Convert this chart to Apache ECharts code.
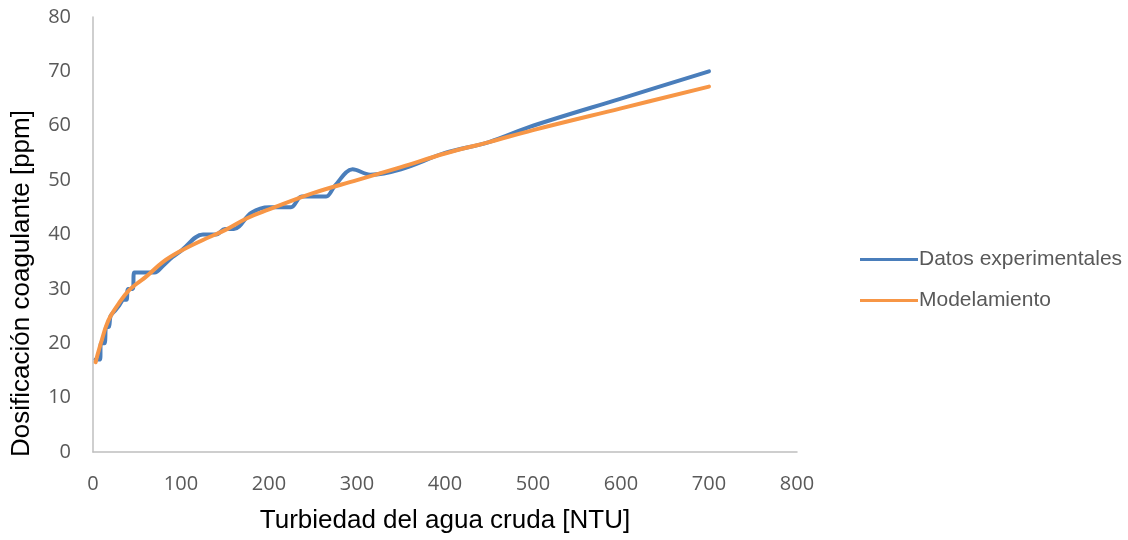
<!DOCTYPE html>
<html>
<head>
<meta charset="utf-8">
<script src="https://cdn.jsdelivr.net/npm/echarts@6/dist/echarts.min.js"></script>
<style>
  html, body { margin: 0; padding: 0; background: #ffffff; }
  #chart { width: 1128px; height: 540px; }
</style>
</head>
<body>
<div id="chart"></div>
<script>
// Turbidez del agua cruda [NTU] vs. dosis de coagulante [ppm]
var expTurbidity = [3, 8, 9, 13, 15, 18, 20, 25, 30, 35, 38, 40, 45, 47, 60, 70, 80, 90, 100, 125, 140, 150, 160, 180, 200, 210, 225, 237, 250, 265, 275, 295, 315, 350, 400, 450, 500, 600, 700];
var expDose = [17, 17, 20, 20, 23, 23, 25, 26, 27, 28, 28, 30, 30, 33, 33, 33, 34.3, 35.8, 37, 40, 40, 41, 41, 44, 45, 45, 45, 47, 47, 47, 49, 52, 51, 52, 55, 57, 60, 65, 70];

var modelTurbidity = [3, 5, 10, 15, 20, 30, 40, 50, 60, 80, 100, 125, 150, 175, 200, 250, 300, 350, 400, 450, 500, 600, 700];
var modelDose = [16.5, 17.8, 20.6, 23.2, 25.0, 27.5, 29.6, 31.0, 32.2, 35.0, 37.0, 39.0, 40.8, 43.0, 44.6, 47.6, 50.0, 52.4, 54.9, 57.0, 59.2, 63.2, 67.2];

var xTicks = [0, 100, 200, 300, 400, 500, 600, 700, 800];
var yTicks = [0, 10, 20, 30, 40, 50, 60, 70, 80];

function pairs(xs, ys) {
  return xs.map(function (x, i) { return [x, ys[i]]; });
}

var chart = echarts.init(document.getElementById('chart'));
chart.setOption({
  backgroundColor: '#ffffff',
  animation: false,
  grid: { left: 93, right: 331, top: 17, bottom: 88 },
  legend: {
    orient: 'vertical',
    left: 860,
    top: 249,
    padding: 0,
    itemWidth: 58,
    itemHeight: 3,
    itemGap: 20,
    icon: 'rect',
    textStyle: { fontFamily: 'Liberation Sans', fontSize: 21, color: '#595959', padding: [0, 0, 0, -4] },
    data: ['Datos experimentales', 'Modelamiento']
  },
  xAxis: {
    type: 'value',
    min: xTicks[0],
    max: xTicks[xTicks.length - 1],
    interval: 100,
    name: 'Turbiedad del agua cruda [NTU]',
    nameLocation: 'middle',
    nameGap: 56,
    nameTextStyle: { fontFamily: 'Liberation Sans', fontSize: 26, color: '#000000' },
    axisLine: { show: true, lineStyle: { color: '#bfbfbf', width: 1.5 } },
    axisTick: { show: false },
    splitLine: { show: false },
    axisLabel: { margin: 22, fontFamily: 'Open Sans', fontSize: 20, color: '#595959' }
  },
  yAxis: {
    type: 'value',
    min: yTicks[0],
    max: yTicks[yTicks.length - 1],
    interval: 10,
    name: 'Dosificación coagulante [ppm]',
    nameLocation: 'middle',
    nameGap: 58,
    nameTextStyle: { fontFamily: 'Liberation Sans', fontSize: 26, color: '#000000', padding: [0, 98, 0, 0] },
    axisLine: { show: true, lineStyle: { color: '#bfbfbf', width: 1.5 } },
    axisTick: { show: false },
    splitLine: { show: false },
    axisLabel: { margin: 22, fontFamily: 'Open Sans', fontSize: 20, color: '#595959' }
  },
  series: [
    {
      name: 'Datos experimentales',
      type: 'line',
      data: pairs(expTurbidity, expDose),
      smooth: 0.35,
      showSymbol: false,
      color: '#4A7EBB',
      lineStyle: { width: 4, color: '#4A7EBB', cap: 'round', join: 'round' }
    },
    {
      name: 'Modelamiento',
      type: 'line',
      data: pairs(modelTurbidity, modelDose),
      smooth: 0.4,
      showSymbol: false,
      color: '#F79646',
      lineStyle: { width: 4, color: '#F79646', cap: 'round', join: 'round' }
    }
  ]
});
</script>
</body>
</html>
